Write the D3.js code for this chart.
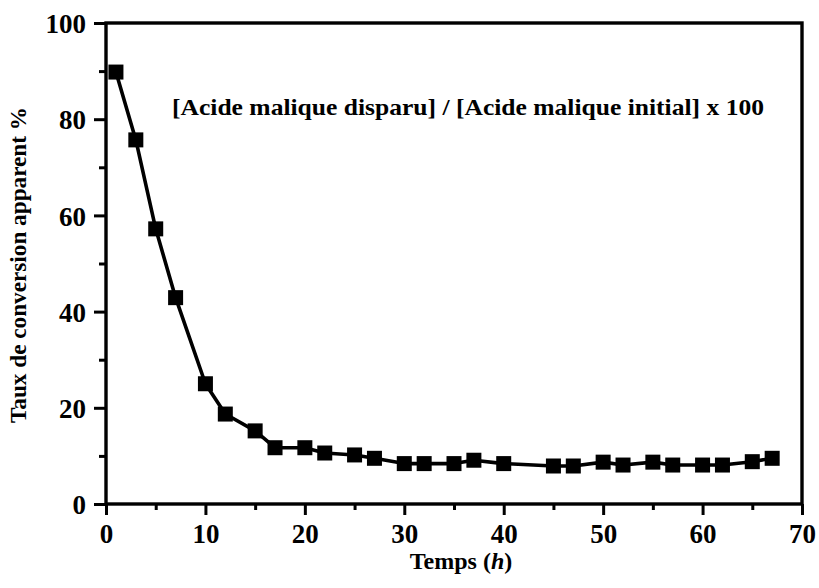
<!DOCTYPE html>
<html>
<head>
<meta charset="utf-8">
<script src="https://cdn.jsdelivr.net/npm/d3@7"></script>
<style>
  html, body { margin: 0; padding: 0; background: #fff; }
  svg { display: block; }
</style>
</head>
<body>
<svg id="chart" width="819" height="588"></svg>
<script>
// ---- data ----
const timeHours = [1, 3, 5, 7, 10, 12, 15, 17, 20, 22, 25, 27, 30, 32, 35, 37, 40, 45, 47, 50, 52, 55, 57, 60, 62, 65, 67];
const conversion = [89.8, 75.7, 57.2, 42.9, 25.0, 18.7, 15.2, 11.7, 11.7, 10.6, 10.2, 9.5, 8.4, 8.4, 8.4, 9.1, 8.4, 7.9, 7.9, 8.7, 8.1, 8.7, 8.1, 8.1, 8.1, 8.8, 9.5];
const xTicks = [0, 10, 20, 30, 40, 50, 60, 70];
const xMinorTicks = [5, 15, 25, 35, 45, 55, 65];
const yTicks = [0, 20, 40, 60, 80, 100];
const yMinorTicks = [10, 30, 50, 70, 90];
const yTitle = "Taux de conversion apparent %";
const annotation = "[Acide malique disparu] / [Acide malique initial] x 100";

// ---- layout ----
const FONT = "'Liberation Serif', 'Times New Roman', serif";
const plotLeft = 106, plotRight = 802, plotTop = 23, plotBottom = 504;
const svg = d3.select("#chart");
const x = d3.scaleLinear().domain([0, 70]).range([plotLeft, plotRight]);
const y = d3.scaleLinear().domain([0, 100]).range([plotBottom, plotTop]);

// frame
svg.append("rect")
  .attr("x", plotLeft).attr("y", plotTop)
  .attr("width", plotRight - plotLeft).attr("height", plotBottom - plotTop)
  .attr("fill", "none").attr("stroke", "#000").attr("stroke-width", 3.4);

// x axis
const xAxis = d3.axisBottom(x).tickValues(xTicks).tickSize(11).tickPadding(9).tickFormat(d3.format("d"));
const gx = svg.append("g").attr("transform", `translate(0,${plotBottom})`).call(xAxis);
gx.select(".domain").remove();
gx.selectAll(".tick line").attr("stroke", "#000").attr("stroke-width", 3);
gx.selectAll(".tick text").attr("font-size", 27).attr("font-family", FONT).attr("font-weight", "bold").attr("fill", "#000");
const gxm = svg.append("g").attr("transform", `translate(0,${plotBottom})`)
  .call(d3.axisBottom(x).tickValues(xMinorTicks).tickSize(6).tickFormat(""));
gxm.select(".domain").remove();
gxm.selectAll(".tick line").attr("stroke", "#000").attr("stroke-width", 3);

// y axis
const yAxis = d3.axisLeft(y).tickValues(yTicks).tickSize(12).tickPadding(8).tickFormat(d3.format("d"));
const gy = svg.append("g").attr("transform", `translate(${plotLeft},0)`).call(yAxis);
gy.select(".domain").remove();
gy.selectAll(".tick line").attr("stroke", "#000").attr("stroke-width", 3);
gy.selectAll(".tick text").attr("font-size", 27).attr("font-family", FONT).attr("font-weight", "bold").attr("fill", "#000").attr("dy", "0.36em");
const gym = svg.append("g").attr("transform", `translate(${plotLeft},0)`)
  .call(d3.axisLeft(y).tickValues(yMinorTicks).tickSize(7).tickFormat(""));
gym.select(".domain").remove();
gym.selectAll(".tick line").attr("stroke", "#000").attr("stroke-width", 3);

// line
const data = timeHours.map((t, i) => ({ t, v: conversion[i] }));
svg.append("path")
  .datum(data)
  .attr("fill", "none")
  .attr("stroke", "#000")
  .attr("stroke-width", 3.6)
  .attr("stroke-linejoin", "round")
  .attr("d", d3.line().x(d => x(d.t)).y(d => y(d.v)));

// markers
const ms = 15;
svg.append("g").selectAll("rect")
  .data(data).join("rect")
  .attr("x", d => x(d.t) - ms / 2)
  .attr("y", d => y(d.v) - ms / 2)
  .attr("width", ms).attr("height", ms)
  .attr("fill", "#000");

// annotation
svg.append("text")
  .attr("x", 172).attr("y", 115)
  .attr("font-family", FONT).attr("font-weight", "bold")
  .attr("font-size", 24)
  .attr("textLength", 592).attr("lengthAdjust", "spacingAndGlyphs")
  .text(annotation);

// x title
const xt = svg.append("text")
  .attr("x", 461).attr("y", 569)
  .attr("text-anchor", "middle")
  .attr("font-family", FONT).attr("font-weight", "bold")
  .attr("font-size", 24);
xt.append("tspan").text("Temps (");
xt.append("tspan").attr("font-style", "italic").text("h");
xt.append("tspan").text(")");

// y title
svg.append("text")
  .attr("transform", "translate(26,265) rotate(-90)")
  .attr("text-anchor", "middle")
  .attr("font-family", FONT).attr("font-weight", "bold")
  .attr("font-size", 23)
  .attr("textLength", 316).attr("lengthAdjust", "spacingAndGlyphs")
  .text(yTitle);
</script>
</body>
</html>
